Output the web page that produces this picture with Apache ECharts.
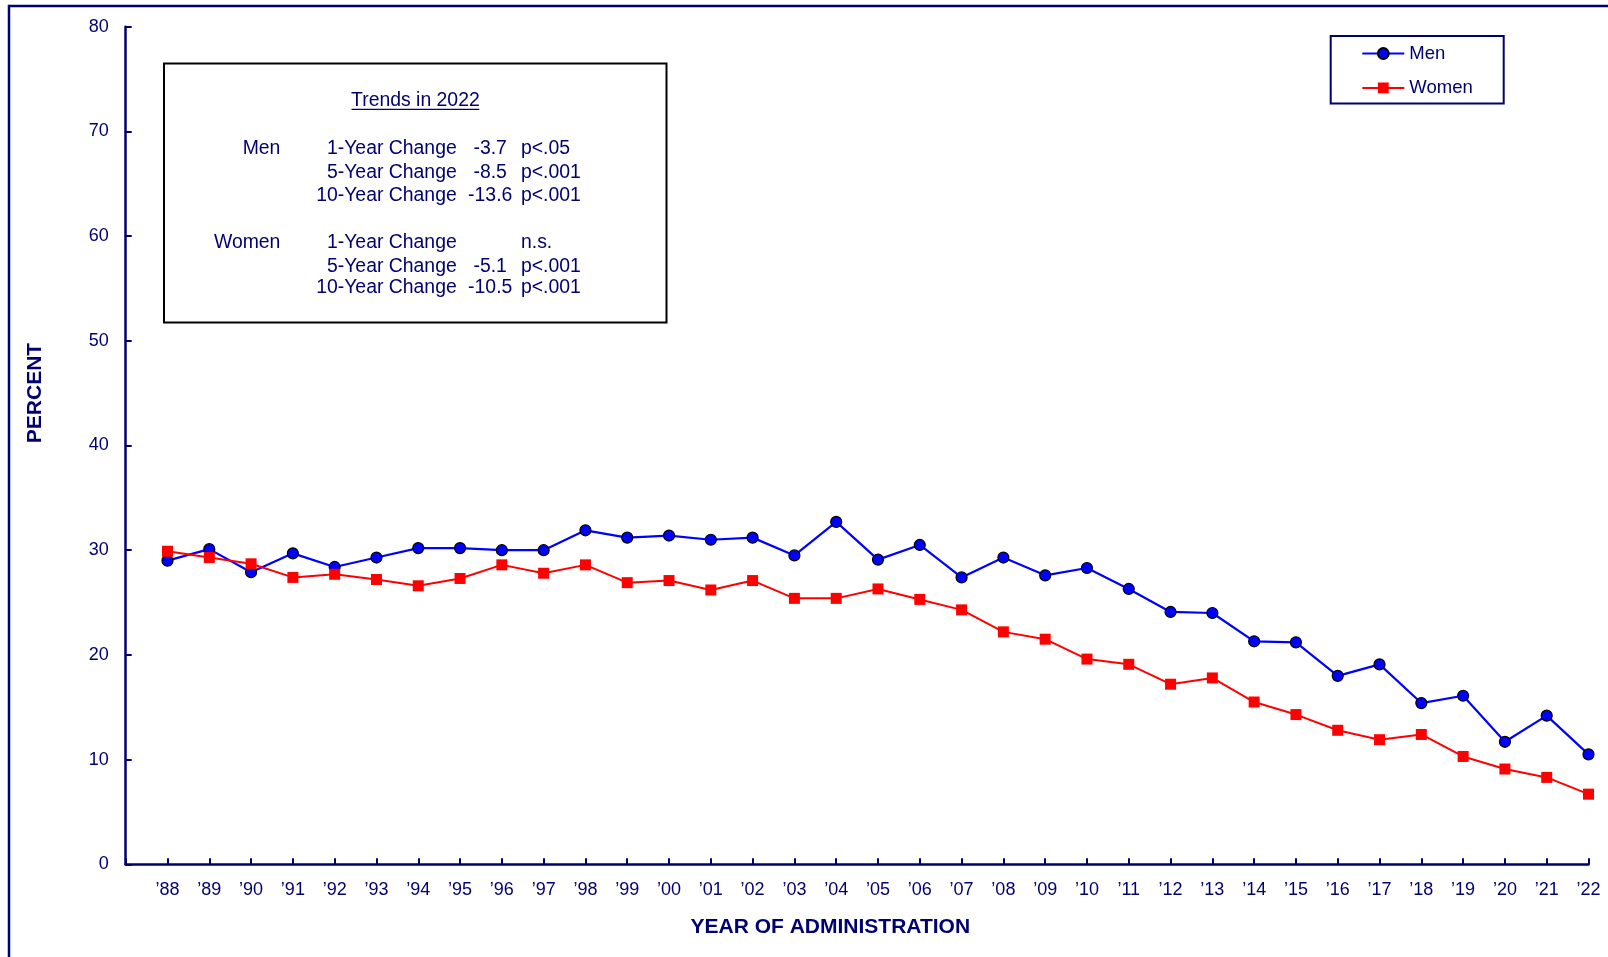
<!DOCTYPE html>
<html><head><meta charset="utf-8">
<script src="https://cdn.jsdelivr.net/npm/echarts@6/dist/echarts.min.js"></script>
<style>html,body{margin:0;padding:0;background:#fff}#c{width:1608px;height:957px}</style>
</head><body><div id="c"></div>
<script>
const years = [1988,1989,1990,1991,1992,1993,1994,1995,1996,1997,1998,1999,2000,2001,2002,2003,2004,2005,2006,2007,2008,2009,2010,2011,2012,2013,2014,2015,2016,2017,2018,2019,2020,2021,2022];
const yearLabels = ["\u201988","\u201989","\u201990","\u201991","\u201992","\u201993","\u201994","\u201995","\u201996","\u201997","\u201998","\u201999","\u201900","\u201901","\u201902","\u201903","\u201904","\u201905","\u201906","\u201907","\u201908","\u201909","\u201910","\u201911","\u201912","\u201913","\u201914","\u201915","\u201916","\u201917","\u201918","\u201919","\u201920","\u201921","\u201922"];
const men = [29.0,30.1,27.9,29.7,28.4,29.3,30.2,30.2,30.0,30.0,31.9,31.2,31.4,31.0,31.2,29.5,32.7,29.1,30.5,27.4,29.3,27.6,28.3,26.3,24.1,24.0,21.3,21.2,18.0,19.1,15.4,16.1,11.7,14.2,10.5];
const women = [29.9,29.3,28.7,27.4,27.7,27.2,26.6,27.3,28.6,27.8,28.6,26.9,27.1,26.2,27.1,25.4,25.4,26.3,25.3,24.3,22.2,21.5,19.6,19.1,17.2,17.8,15.5,14.3,12.8,11.9,12.4,10.3,9.1,8.3,6.7];
const seriesNames = ["Men","Women"];
const yMin = 0, yMax = 80, yStep = 10;
const xTitle = "YEAR OF ADMINISTRATION";
const yTitle = "PERCENT";
const boxTitle = "Trends in 2022";
const boxGroups = ["Men","","","Women","",""];
const boxLabels = ["1-Year Change","5-Year Change","10-Year Change","1-Year Change","5-Year Change","10-Year Change"];
const boxValues = ["-3.7","-8.5","-13.6","","-5.1","-10.5"];
const boxSig = ["p<.05","p<.001","p<.001","n.s.","p<.001","p<.001"];

const NAVY = '#000070';
const FONT = '"Liberation Sans", Arial, sans-serif';
const BOXFONT = '19.4px ' + FONT;
const rowY = [148.3,172.2,196,242.8,266.3,288];

const graphics = [
  {type:'rect', shape:{x:9,y:6,width:1700,height:1100}, style:{fill:null, stroke:NAVY, lineWidth:2.5}, silent:true},
  {type:'rect', shape:{x:164,y:63.5,width:502.5,height:259}, style:{fill:'#fff', stroke:'#000', lineWidth:2}, z:1},
  {type:'text', x:415.4, y:100.5, z:2, style:{text:boxTitle, fill:NAVY, font:BOXFONT, textAlign:'center', textVerticalAlign:'middle'}},
  {type:'line', shape:{x1:351.5,y1:109.3,x2:479.3,y2:109.3}, style:{stroke:NAVY, lineWidth:1.3}, z:2},
  {type:'text', x:830.3, y:927, style:{text:xTitle, fill:NAVY, font:'bold 21px '+FONT, textAlign:'center', textVerticalAlign:'middle'}},
  {type:'text', x:35, y:393, rotation:Math.PI/2, style:{text:yTitle, fill:NAVY, font:'bold 21px '+FONT, textAlign:'center', textVerticalAlign:'middle'}}
];
for (let i=0;i<rowY.length;i++){
  if (boxGroups[i]) graphics.push({type:'text', x:280.4, y:rowY[i], z:2, style:{text:boxGroups[i], fill:NAVY, font:BOXFONT, textAlign:'right', textVerticalAlign:'middle'}});
  graphics.push({type:'text', x:456.7, y:rowY[i], z:2, style:{text:boxLabels[i], fill:NAVY, font:BOXFONT, textAlign:'right', textVerticalAlign:'middle'}});
  if (boxValues[i]) graphics.push({type:'text', x:490.2, y:rowY[i], z:2, style:{text:boxValues[i], fill:NAVY, font:BOXFONT, textAlign:'center', textVerticalAlign:'middle'}});
  graphics.push({type:'text', x:521, y:rowY[i], z:2, style:{text:boxSig[i], fill:NAVY, font:BOXFONT, textAlign:'left', textVerticalAlign:'middle'}});
}

const chart = echarts.init(document.getElementById('c'), null, {renderer:'canvas'});
chart.setOption({
  animation:false,
  backgroundColor:'#fff',
  grid:{left:125.7, right:19.5, top:26.7, bottom:92.7},
  legend:{
    data:seriesNames, orient:'vertical', left:1330.7, top:36,
    padding:[8,31,6,30.6], itemGap:15.4, itemWidth:42, itemHeight:13.5,
    borderColor:NAVY, borderWidth:2,
    textStyle:{fontSize:18.5, color:NAVY, fontFamily:FONT}
  },
  xAxis:{
    type:'value', min:1987, max:2022, interval:1,
    axisLine:{show:true, lineStyle:{color:NAVY, width:2.5}},
    axisTick:{show:true, inside:true, length:6, lineStyle:{color:NAVY, width:2}},
    splitLine:{show:false},
    axisLabel:{margin:17, fontSize:18, color:NAVY, fontFamily:FONT,
      formatter:function(v){const i=years.indexOf(v); return i<0?'':yearLabels[i];}}
  },
  yAxis:{
    type:'value', min:yMin, max:yMax, interval:yStep,
    axisLine:{show:true, lineStyle:{color:NAVY, width:2.5}},
    axisTick:{show:true, inside:true, length:6, lineStyle:{color:NAVY, width:2}},
    splitLine:{show:false},
    axisLabel:{margin:17, fontSize:18, color:NAVY, fontFamily:FONT}
  },
  series:[
    {name:seriesNames[0], type:'line', data:years.map((y,i)=>[y,men[i]]),
     symbol:'circle', symbolSize:11,
     itemStyle:{color:'#0000ff', borderColor:'#000', borderWidth:1.2},
     lineStyle:{color:'#0000ff', width:2.2}},
    {name:seriesNames[1], type:'line', data:years.map((y,i)=>[y,women[i]]),
     symbol:'rect', symbolSize:11,
     itemStyle:{color:'#ff0000'},
     lineStyle:{color:'#ff0000', width:2}}
  ],
  graphic:graphics
});
</script></body></html>
